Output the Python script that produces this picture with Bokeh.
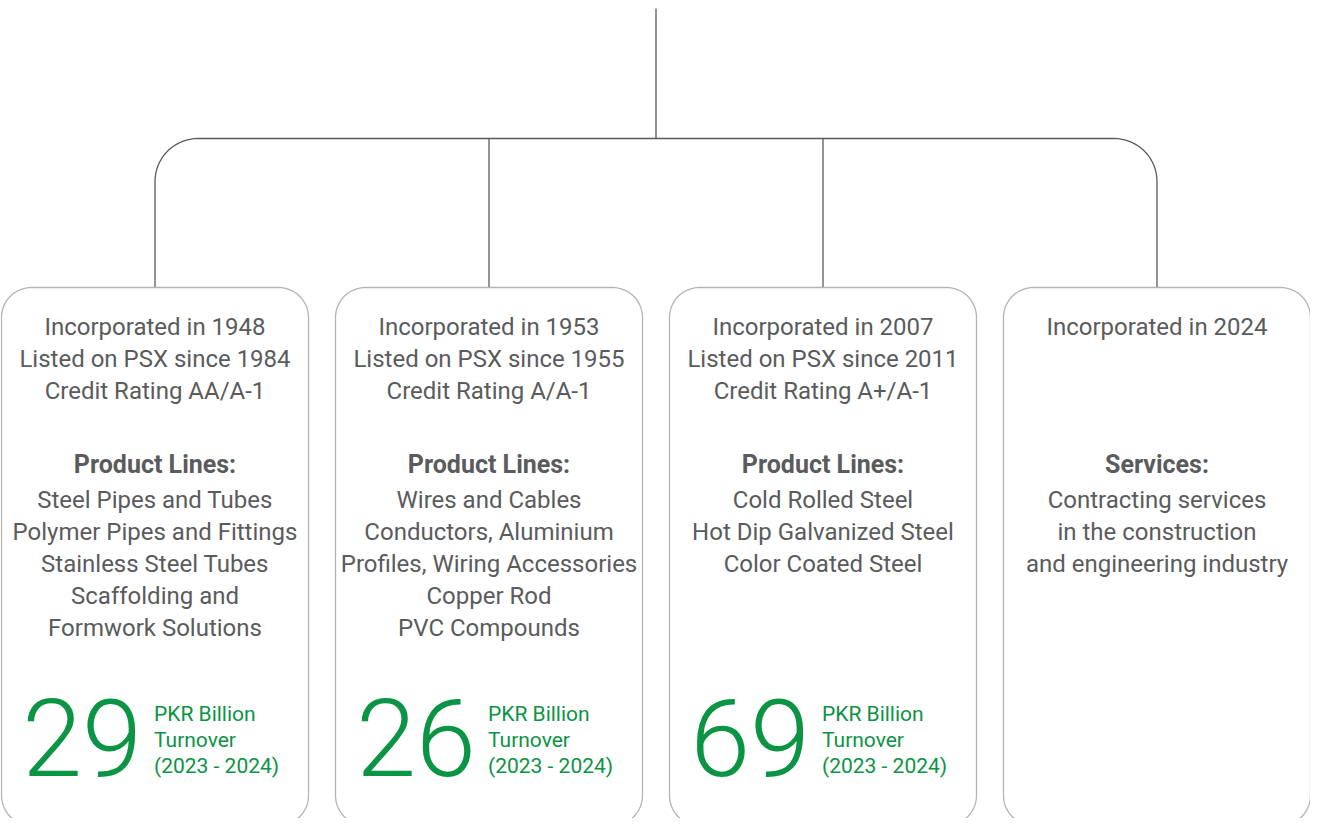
import math
from bokeh.plotting import figure
from bokeh.models import Range1d
from bokeh.core.properties import value
from bokeh.embed import file_html
from bokeh.resources import INLINE

# ---- data ----
incorporated = ["1948", "1953", "2007", "2024"]
listed = ["1984", "1955", "2011", None]
ratings = ["AA/A-1", "A/A-1", "A+/A-1", None]
section_titles = ["Product Lines:", "Product Lines:", "Product Lines:", "Services:"]
product_lines = [
    ["Steel Pipes and Tubes", "Polymer Pipes and Fittings", "Stainless Steel Tubes",
     "Scaffolding and", "Formwork Solutions"],
    ["Wires and Cables", "Conductors, Aluminium", "Profiles, Wiring Accessories",
     "Copper Rod", "PVC Compounds"],
    ["Cold Rolled Steel", "Hot Dip Galvanized Steel", "Color Coated Steel"],
    ["Contracting services", "in the construction", "and engineering industry"],
]
turnover = ["29", "26", "69", None]
turnover_label = ["PKR Billion", "Turnover", "(2023 - 2024)"]

# ---- styling ----
GRAY_TXT = "#5a5b5d"
GREEN = "#0b9444"
LINE = "#5a5a5a"
BOX = "#b4b4b4"
FONT = "Roboto"

W, H = 1310, 818
X0 = 5
p = figure(width=W, height=H, x_range=Range1d(X0, X0 + W), y_range=Range1d(H, 0),
           output_backend="svg", toolbar_location=None, min_border=0,
           background_fill_color="white", border_fill_color="white")
p.axis.visible = False
p.xgrid.visible = False
p.ygrid.visible = False
p.outline_line_color = None

def arc(cx, cy, r, a0, a1, n=16):
    xs, ys = [], []
    for i in range(n + 1):
        a = math.radians(a0 + (a1 - a0) * i / n)
        xs.append(cx + r * math.cos(a))
        ys.append(cy + r * math.sin(a))
    return xs, ys

def rounded_rect(x0, y0, x1, y1, r):
    xs, ys = [], []
    for (cx, cy, a0, a1) in [(x0 + r, y0 + r, 180, 270), (x1 - r, y0 + r, 270, 360),
                              (x1 - r, y1 - r, 0, 90), (x0 + r, y1 - r, 90, 180)]:
        ax, ay = arc(cx, cy, r, a0, a1)
        xs += ax
        ys += ay
    xs.append(xs[0]); ys.append(ys[0])
    return xs, ys

n = len(incorporated)
box_w, gap = 307, 27
left0 = 6
centers = [left0 + i * (box_w + gap) + box_w / 2 for i in range(n)]
box_top, box_bot = 287, 825

# connector tree
top_x = (centers[0] + centers[-1]) / 2
p.line([top_x, top_x], [8, 138], line_color=LINE, line_width=1.3)
R = 43
cx_l, cx_r = centers[0], centers[-1]
xs, ys = [cx_l], [box_top]
ax, ay = arc(cx_l + R, 138 + R, R, 180, 270)
xs += ax; ys += ay
ax, ay = arc(cx_r - R, 138 + R, R, 270, 360)
xs += ax; ys += ay
xs.append(cx_r); ys.append(box_top)
p.line(xs, ys, line_color=LINE, line_width=1.3)
for c in centers[1:-1]:
    p.line([c, c], [138, box_top], line_color=LINE, line_width=1.3)

# boxes
for c in centers:
    bx, by = rounded_rect(c - box_w / 2, box_top, c + box_w / 2, box_bot, 30)
    p.line(bx, by, line_color=BOX, line_width=1.3)

# texts
tx, ty, tt = [], [], []
bx_, by_, bt = [], [], []
for i, c in enumerate(centers):
    lines = ["Incorporated in " + incorporated[i]]
    if listed[i]:
        lines.append("Listed on PSX since " + listed[i])
    if ratings[i]:
        lines.append("Credit Rating " + ratings[i])
    for k, s in enumerate(lines):
        tx.append(c); ty.append(326 + 32 * k); tt.append(s)
    bx_.append(c); by_.append(464); bt.append(section_titles[i])
    for k, s in enumerate(product_lines[i]):
        tx.append(c); ty.append(499 + 32 * k); tt.append(s)

p.text(tx, ty, text=tt, text_align="center", text_baseline="middle",
       text_font=value(FONT), text_font_size="24px", text_color=GRAY_TXT)
p.text(bx_, by_, text=bt, text_align="center", text_baseline="middle",
       text_font=value(FONT), text_font_size="25px", text_font_style="bold",
       text_color=GRAY_TXT)

nx, ny, nt = [], [], []
lx, ly, lt = [], [], []
for i, c in enumerate(centers):
    if turnover[i] is None:
        continue
    nx.append(c - 13); ny.append(737); nt.append(turnover[i])
    for k, s in enumerate(turnover_label):
        lx.append(c - 1); ly.append(713 + 26 * k); lt.append(s)

p.text(nx, ny, text=nt, text_align="right", text_baseline="middle",
       text_font=value("Roboto Light"), text_font_size="108px", text_color=GREEN)
p.text(lx, ly, text=lt, text_align="left", text_baseline="middle",
       text_font=value(FONT), text_font_size="21px", text_color=GREEN)

open("out.html", "w").write(file_html(p, INLINE))
